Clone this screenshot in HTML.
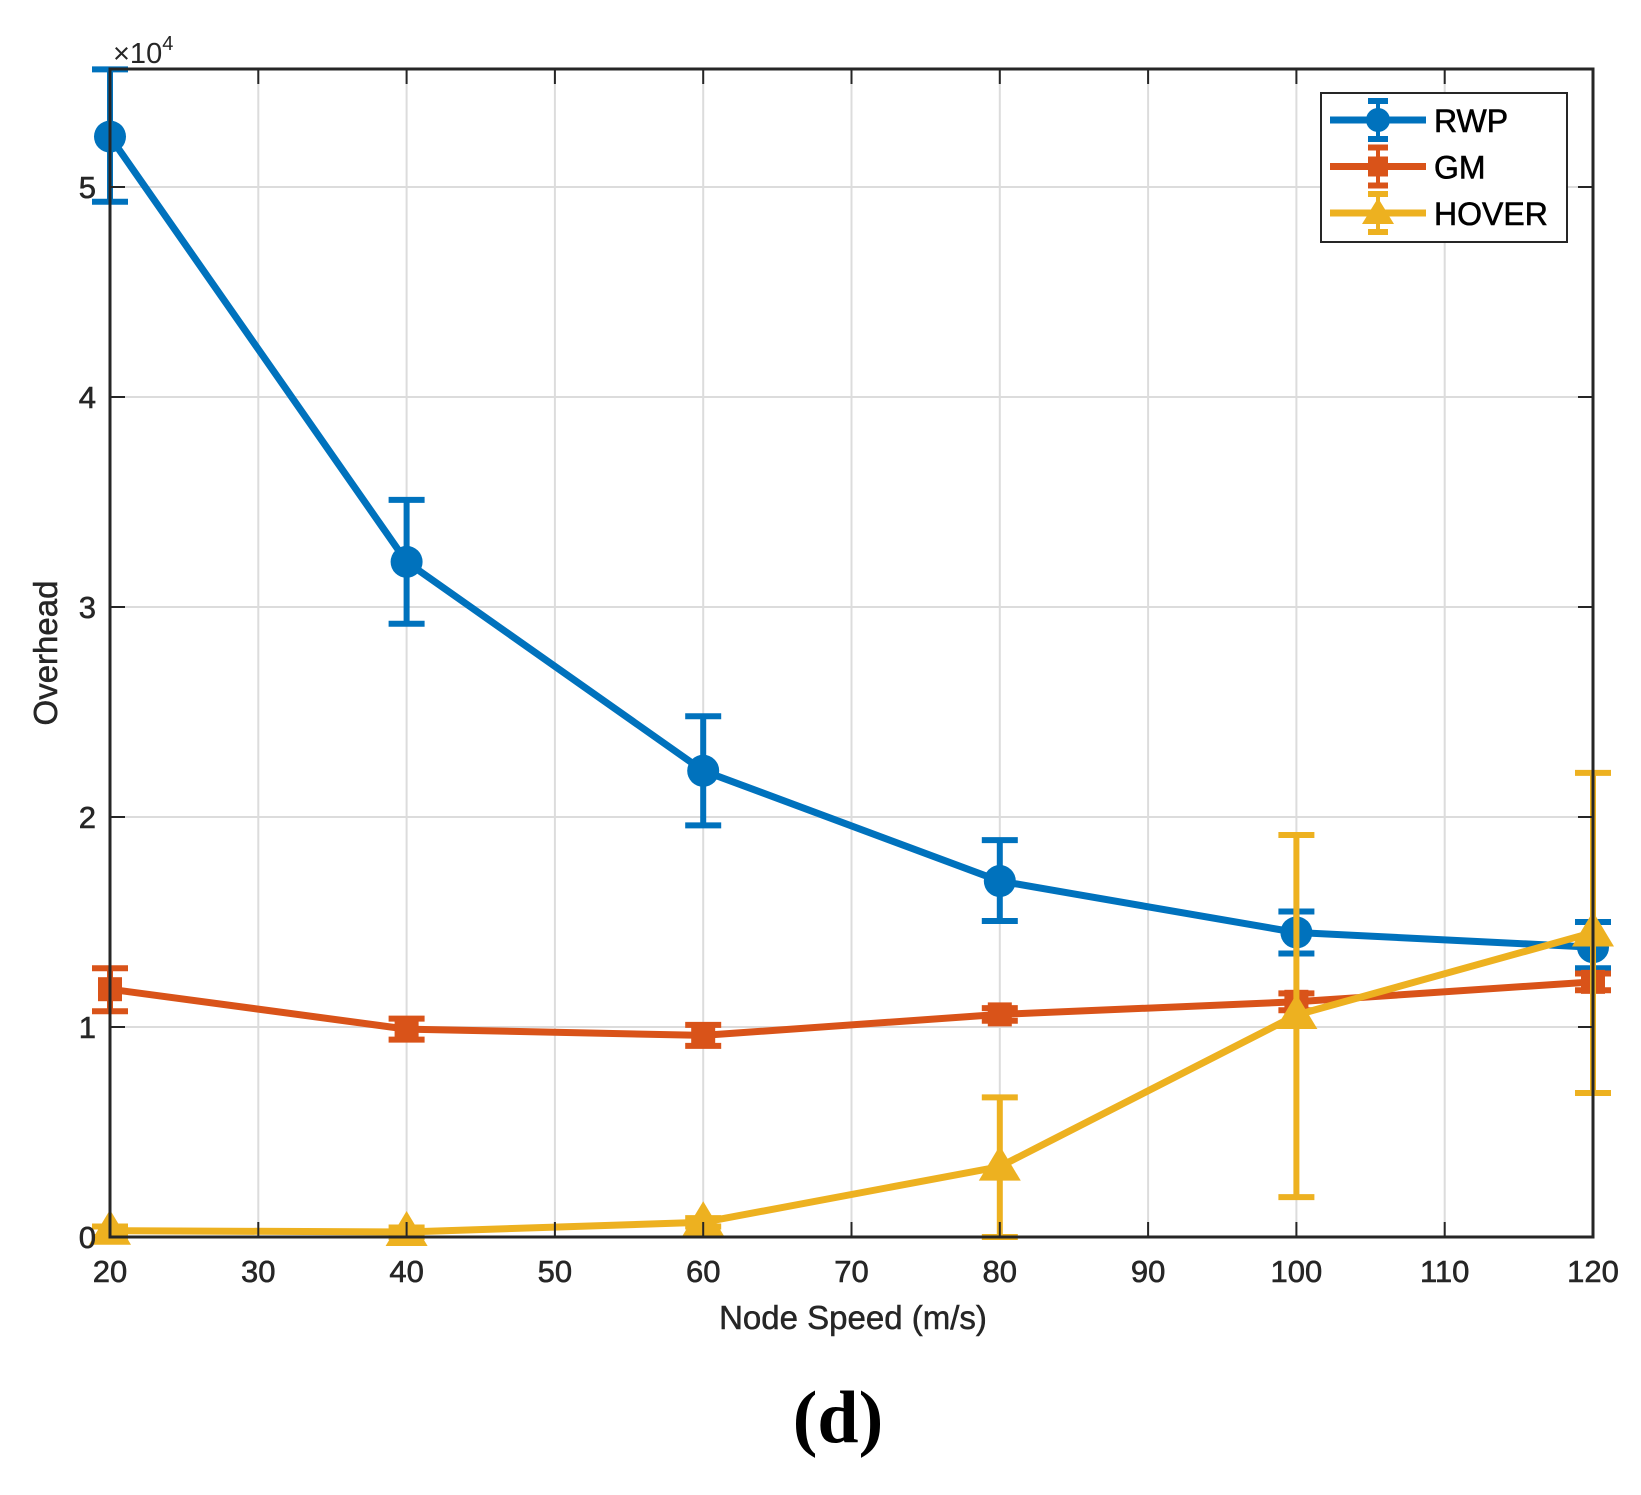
<!DOCTYPE html>
<html><head><meta charset="utf-8"><style>
body{margin:0;background:#fff;}
svg{display:block;font-family:"Liberation Sans",Arial,sans-serif;}
</style></head><body>
<svg id="chart" width="1641" height="1495" viewBox="0 0 1641 1495" xmlns="http://www.w3.org/2000/svg">
<g id="grid"></g>
<g id="series"></g>
<g id="axes"></g>
<text x="113" y="63" font-size="29" fill="#262626">×10<tspan font-size="20" dy="-13">4</tspan></text>
<text x="853" y="1329" font-size="33" fill="#262626" text-anchor="middle" stroke="#262626" stroke-width="0.5">Node Speed (m/s)</text>
<text transform="translate(57,653) rotate(-90)" font-size="33" fill="#262626" text-anchor="middle" stroke="#262626" stroke-width="0.5">Overhead</text>
<text x="838" y="1442" font-size="74" font-family="'Liberation Serif',serif" font-weight="bold" text-anchor="middle" fill="#000">(d)</text>
<g>
<rect x="1321" y="93" width="246" height="149" fill="#fff" stroke="#262626" stroke-width="2"/>
<g id="legend-items"></g>
</g>
</svg>
<script>
const xValues=[20,40,60,80,100,120];
const rwpMean=[5.24,3.215,2.22,1.695,1.45,1.38];
const rwpLow=[4.93,2.92,1.96,1.505,1.35,1.28];
const rwpHigh=[5.56,3.51,2.48,1.89,1.55,1.50];
const gmMean=[1.18,0.99,0.96,1.06,1.12,1.215];
const gmLow=[1.075,0.94,0.91,1.03,1.08,1.175];
const gmHigh=[1.28,1.04,1.01,1.09,1.16,1.255];
const hoverMean=[0.03,0.024,0.07,0.335,1.057,1.45];
const hoverLow=[0.0,0.0,0.05,0.0,0.19,0.686];
const hoverHigh=[0.05,0.045,0.09,0.665,1.914,2.21];
const xTicks=[20,30,40,50,60,70,80,90,100,110,120];
const yTicks=[0,1,2,3,4,5];
const seriesNames=["RWP","GM","HOVER"];

const NS="http://www.w3.org/2000/svg";
const L=110,R=1593,T=69,B=1237;
const xs=v=>L+(v-20)/100*(R-L);
const ys=v=>B-v*210;
function mk(tag,attrs,parent){const e=document.createElementNS(NS,tag);for(const k in attrs)e.setAttribute(k,attrs[k]);parent.appendChild(e);return e;}
const grid=document.getElementById('grid'),axes=document.getElementById('axes'),ser=document.getElementById('series');
xTicks.forEach(t=>{
 const g=mk('line',{x1:xs(t),x2:xs(t),y1:T,y2:B,stroke:'#dcdcdc','stroke-width':2},grid);
 
 mk('line',{x1:xs(t),x2:xs(t),y1:B,y2:B-15,stroke:'#262626','stroke-width':2},axes);
 mk('line',{x1:xs(t),x2:xs(t),y1:T,y2:T+15,stroke:'#262626','stroke-width':2},axes);
 const tx=mk('text',{x:xs(t),y:1282,'font-size':31,fill:'#262626','text-anchor':'middle',stroke:'#262626','stroke-width':0.6},axes);tx.textContent=t;
 
});
yTicks.forEach(t=>{
 const g=mk('line',{x1:L,x2:R,y1:ys(t),y2:ys(t),stroke:'#dcdcdc','stroke-width':2},grid);
 
 mk('line',{x1:L,x2:L+15,y1:ys(t),y2:ys(t),stroke:'#262626','stroke-width':2},axes);
 mk('line',{x1:R,x2:R-15,y1:ys(t),y2:ys(t),stroke:'#262626','stroke-width':2},axes);
 const tx=mk('text',{x:96,y:ys(t)+11,'font-size':31,fill:'#262626','text-anchor':'end',stroke:'#262626','stroke-width':0.6},axes);tx.textContent=t;
 
});
mk('rect',{x:L,y:T,width:R-L,height:B-T,fill:'none',stroke:'#262626','stroke-width':3},axes);

function marker(type,x,y,color,parent){
 if(type==='circle')return mk('circle',{cx:x,cy:y,r:16,fill:color},parent);
 if(type==='square')return mk('rect',{x:x-12,y:y-12,width:24,height:24,fill:color},parent);
 return mk('polygon',{points:`${x},${y-21} ${x-21},${y+14} ${x+21},${y+14}`,fill:color},parent);
}
const defs=[
 {name:'rwp',color:'#0072bd',m:'circle',mean:rwpMean,lo:rwpLow,hi:rwpHigh},
 {name:'gm',color:'#d95319',m:'square',mean:gmMean,lo:gmLow,hi:gmHigh},
 {name:'hover',color:'#edb120',m:'triangle',mean:hoverMean,lo:hoverLow,hi:hoverHigh}];
defs.forEach(s=>{
 const g=mk('g',{},ser);
 
 
 xValues.forEach((x,i)=>{
  const X=xs(x);
  const eb=mk('g',{},g);
  
  
  mk('line',{x1:X,x2:X,y1:ys(s.lo[i]),y2:ys(s.hi[i]),stroke:s.color,'stroke-width':6},eb);
  mk('line',{x1:X-18,x2:X+18,y1:ys(s.lo[i]),y2:ys(s.lo[i]),stroke:s.color,'stroke-width':6},eb);
  mk('line',{x1:X-18,x2:X+18,y1:ys(s.hi[i]),y2:ys(s.hi[i]),stroke:s.color,'stroke-width':6},eb);
 });
 const pl=mk('polyline',{points:xValues.map((x,i)=>xs(x)+','+ys(s.mean[i])).join(' '),fill:'none',stroke:s.color,'stroke-width':7,'stroke-linejoin':'round'},g);
 
 
 xValues.forEach((x,i)=>{
  const mm=marker(s.m,xs(x),ys(s.mean[i]),s.color,g);
  
  
 });
});
const li=document.getElementById('legend-items');
defs.forEach((s,k)=>{
 const y=120+k*46.5;
 const g=mk('g',{},li);
 
 
 mk('line',{x1:1330,x2:1426,y1:y,y2:y,stroke:s.color,'stroke-width':7},g);
 mk('line',{x1:1378,x2:1378,y1:y-19,y2:y+19,stroke:s.color,'stroke-width':4},g);
 mk('line',{x1:1368,x2:1388,y1:y-19,y2:y-19,stroke:s.color,'stroke-width':6},g);
 mk('line',{x1:1368,x2:1388,y1:y+19,y2:y+19,stroke:s.color,'stroke-width':6},g);
 if(s.m==='circle')mk('circle',{cx:1378,cy:y,r:12,fill:s.color},g);
 else if(s.m==='square')mk('rect',{x:1368,y:y-10,width:20,height:20,fill:s.color},g);
 else mk('polygon',{points:`1378,${y-15} 1362,${y+11} 1394,${y+11}`,fill:s.color},g);
 const t=mk('text',{x:1434,y:y+12,'font-size':32,fill:'#000',stroke:'#000','stroke-width':0.6},g);t.textContent=seriesNames[k];
});
</script>
</body></html>
